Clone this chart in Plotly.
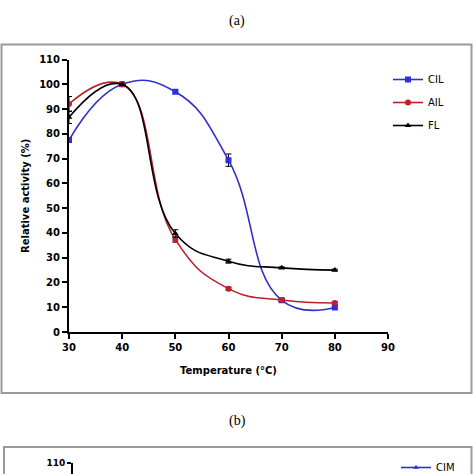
import plotly.graph_objects as go

W = 474
H = 474

temps = [30, 40, 50, 60, 70, 80]
cil = [77.5, 100, 97, 69.4, 12.8, 9.9]
ail = [92.1, 100, 37.3, 17.5, 12.9, 11.7]
fl = [86.7, 100, 39.8, 28.6, 25.9, 25.0]
cil_err = [1.0, 0.0, 0.6, 2.5, 0.5, 0.6]
ail_err = [3.0, 0.0, 1.0, 0.6, 0.5, 0.5]
fl_err = [2.5, 0.0, 1.5, 0.8, 0.4, 0.4]

x_ticks = [30, 40, 50, 60, 70, 80, 90]
y_ticks = [0, 10, 20, 30, 40, 50, 60, 70, 80, 90, 100, 110]

series = [
    ("CIL", cil, cil_err, "#3030C8", "#2F2FE0", "square"),
    ("AIL", ail, ail_err, "#B8202A", "#C0202A", "circle"),
    ("FL", fl, fl_err, "#000000", "#000000", "triangle-up"),
]

FONT = "DejaVu Sans"

def px_x(p):
    return p / W

def px_y(p):
    return 1 - p / H

fig = go.Figure()
for i, (name, vals, err, lc, mc, sym) in enumerate(series):
    fig.add_trace(go.Scatter(
        x=temps, y=vals, name=name, mode="lines+markers",
        line=dict(color=lc, width=1.6, shape="spline", smoothing=1.3),
        marker=dict(color=mc, symbol=sym, size=6),
        error_y=dict(type="data", array=err, visible=True, color="#000000",
                     thickness=1, width=3),
        legendgroup=name, legend="legend",
    ))

# next panel (b) fragment legend entry
fig.add_trace(go.Scatter(
    x=[None], y=[None], name="CIM", mode="lines+markers",
    line=dict(color="#3030C8", width=1.6),
    marker=dict(color="#3030C8", symbol="triangle-up", size=5),
    xaxis="x2", yaxis="y2", legend="legend2",
))

axis_common = dict(
    showline=True, linecolor="#000000", linewidth=2,
    ticks="outside", ticklen=5, tickwidth=1.5, tickcolor="#000000",
    showgrid=False, zeroline=False, automargin=False,
    tickfont=dict(family=FONT, size=10, color="#000000", weight="bold"),
)

fig.update_layout(
    width=W, height=H,
    margin=dict(l=0, r=0, t=0, b=0, pad=0, autoexpand=False),
    paper_bgcolor="white", plot_bgcolor="white",
    showlegend=True,
    xaxis=dict(
        domain=[px_x(69), px_x(388)], range=[30, 90], tickvals=x_ticks,
        title=dict(text="Temperature (°C)", standoff=15,
                   font=dict(family=FONT, size=10, color="#000000", weight="bold")),
        anchor="y", **axis_common,
    ),
    yaxis=dict(
        domain=[px_y(332), px_y(59.6)], range=[0, 110], tickvals=y_ticks,
        title=dict(text="Relative activity (%)", standoff=8,
                   font=dict(family=FONT, size=10, color="#000000", weight="bold")),
        anchor="x", **axis_common,
    ),
    xaxis2=dict(domain=[px_x(73), px_x(388)], visible=False, range=[30, 90], anchor="y2"),
    yaxis2=dict(
        domain=[0, px_y(463)], range=[105.5, 110], tickvals=[110], anchor="x2",
        showline=True, linecolor="#000000", linewidth=2, automargin=False,
        ticks="outside", ticklen=4, tickwidth=1.5, tickcolor="#000000",
        showgrid=False, zeroline=False,
        tickfont=dict(family=FONT, size=9, color="#000000", weight="bold"),
    ),
    legend=dict(
        x=px_x(388), y=px_y(65), xanchor="left", yanchor="top",
        font=dict(family=FONT, size=10, color="#000000"),
        bgcolor="rgba(0,0,0,0)", tracegroupgap=4, itemwidth=30,
    ),
    legend2=dict(
        x=px_x(396), y=px_y(453), xanchor="left", yanchor="top",
        font=dict(family=FONT, size=10, color="#000000"),
        bgcolor="rgba(0,0,0,0)", itemwidth=30,
    ),
    annotations=[
        dict(text="(a)", x=0.5, y=px_y(21), xref="paper", yref="paper",
             xanchor="center", yanchor="middle",
             showarrow=False, font=dict(family="Liberation Serif", size=14, color="#000000")),
        dict(text="(b)", x=0.5, y=px_y(421), xref="paper", yref="paper",
             xanchor="center", yanchor="middle",
             showarrow=False, font=dict(family="Liberation Serif", size=14, color="#000000")),
    ],
    shapes=[
        dict(type="rect", xref="paper", yref="paper",
             x0=px_x(1.5), x1=px_x(471.5), y0=px_y(393), y1=px_y(44.5),
             line=dict(color="#9A9A9A", width=2), fillcolor="rgba(0,0,0,0)", layer="below"),
        dict(type="rect", xref="paper", yref="paper",
             x0=px_x(4), x1=px_x(471.5), y0=px_y(490), y1=px_y(447),
             line=dict(color="#9A9A9A", width=2), fillcolor="rgba(0,0,0,0)", layer="below"),
    ],
)

fig.write_html(
    "out.html",
    config={"displayModeBar": False},
    post_script="document.body.style.margin='0';document.body.style.overflow='hidden';",
)
